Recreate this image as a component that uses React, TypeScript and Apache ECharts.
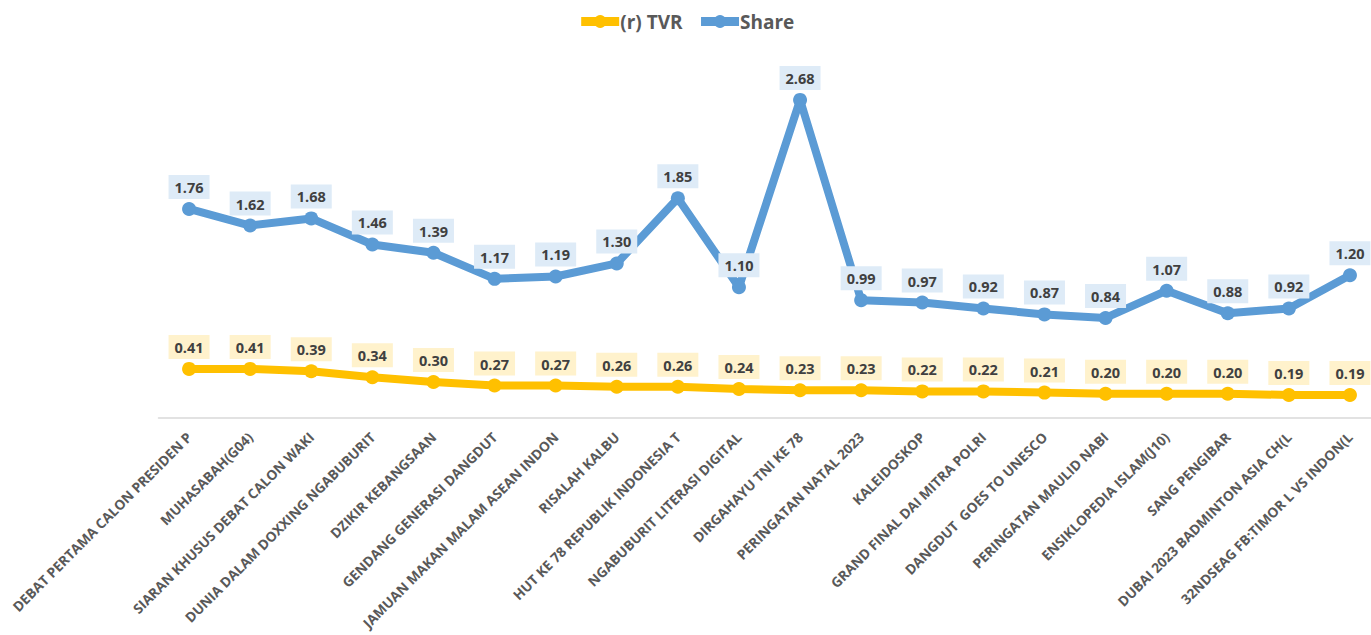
import React, { useEffect, useRef } from "react";
import * as echarts from "echarts";

const categories = [
  "DEBAT PERTAMA CALON PRESIDEN P",
  "MUHASABAH(G04)",
  "SIARAN KHUSUS DEBAT CALON WAKI",
  "DUNIA DALAM DOXXING NGABUBURIT",
  "DZIKIR KEBANGSAAN",
  "GENDANG GENERASI DANGDUT",
  "JAMUAN MAKAN MALAM ASEAN INDON",
  "RISALAH KALBU",
  "HUT KE 78 REPUBLIK INDONESIA T",
  "NGABUBURIT LITERASI DIGITAL",
  "DIRGAHAYU TNI KE 78",
  "PERINGATAN NATAL 2023",
  "KALEIDOSKOP",
  "GRAND FINAL DAI MITRA POLRI",
  "DANGDUT  GOES TO UNESCO",
  "PERINGATAN MAULID NABI",
  "ENSIKLOPEDIA ISLAM(J10)",
  "SANG PENGIBAR",
  "DUBAI 2023 BADMINTON ASIA CH(L",
  "32NDSEAG FB:TIMOR L VS INDON(L",
];

const tvr = [0.41, 0.41, 0.39, 0.34, 0.3, 0.27, 0.27, 0.26, 0.26, 0.24, 0.23, 0.23, 0.22, 0.22, 0.21, 0.2, 0.2, 0.2, 0.19, 0.19];
const share = [1.76, 1.62, 1.68, 1.46, 1.39, 1.17, 1.19, 1.3, 1.85, 1.1, 2.68, 0.99, 0.97, 0.92, 0.87, 0.84, 1.07, 0.88, 0.92, 1.2];

const FONT = "'Open Sans', 'Liberation Sans', sans-serif";

export default function App() {
  const ref = useRef<HTMLDivElement>(null);
  useEffect(() => {
    if (!ref.current) return;
    const chart = echarts.init(ref.current, undefined, { renderer: "svg" });
    const label = (bg: string) => ({
      show: true,
      position: "top",
      distance: 3,
      formatter: (p: any) => Number(p.value).toFixed(2),
      fontFamily: FONT,
      fontSize: 14.5,
      fontWeight: "bold",
      color: "#404040",
      backgroundColor: bg,
      padding: [5, 6, 4, 6],
    });
    chart.setOption({
      animation: false,
      textStyle: { fontFamily: FONT },
      legend: {
        top: 7,
        left: "center",
        itemWidth: 38,
        itemHeight: 16,
        itemGap: 14,
        lineStyle: { width: 9 },
        textStyle: { fontFamily: FONT, fontSize: 19, fontWeight: "bold", color: "#595959", padding: [0, 0, 0, -4] },
        data: ["(r) TVR", "Share"],
      },
      grid: { left: 158.5, width: 1222, top: 62, height: 355.5, outerBoundsMode: "none", containLabel: false },
      xAxis: {
        type: "category",
        data: categories,
        boundaryGap: true,
        axisLine: { lineStyle: { color: "#D9D9D9", width: 1.5 } },
        axisTick: { show: false },
        axisLabel: {
          rotate: 45,
          interval: 0,
          margin: 17,
          fontFamily: FONT,
          fontSize: 13.7,
          fontWeight: "bold",
          color: "#595959",
        },
      },
      yAxis: [
        { type: "value", min: 0, max: 3, show: false, splitLine: { show: false } },
        { type: "value", min: 0, max: 3, show: false, splitLine: { show: false } },
      ],
      series: [
        {
          name: "(r) TVR",
          type: "line",
          yAxisIndex: 1,
          data: tvr,
          symbol: "circle",
          symbolSize: 14,
          color: "#FFC000",
          lineStyle: { width: 8, color: "#FFC000" },
          itemStyle: { color: "#FFC000" },
          label: label("#FFF2CC"),
          z: 2,
        },
        {
          name: "Share",
          type: "line",
          yAxisIndex: 0,
          data: share,
          symbol: "circle",
          symbolSize: 14,
          color: "#5B9BD5",
          lineStyle: { width: 8, color: "#5B9BD5" },
          itemStyle: { color: "#5B9BD5" },
          label: label("#DEEBF7"),
          z: 3,
        },
      ],
    });
    return () => chart.dispose();
  }, []);
  return <div ref={ref} style={{ position: "absolute", left: 0, top: 0, width: 1371, height: 635 }} />;
}
